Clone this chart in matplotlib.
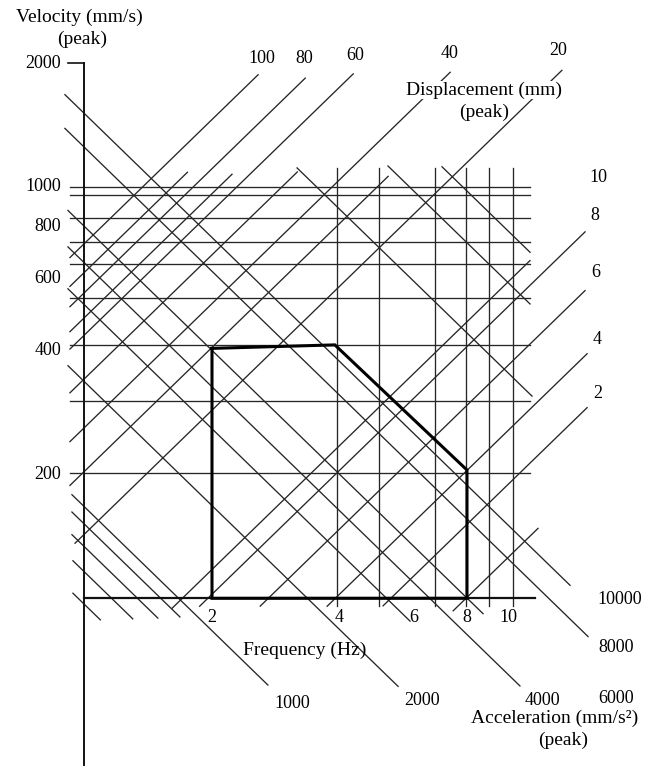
import matplotlib
matplotlib.use("Agg")
import matplotlib.pyplot as plt
import numpy as np

plt.rcParams['font.family'] = ['Liberation Serif', 'DejaVu Serif']

# horizontal lines of constant velocity (mm/s), as drawn
vel_lines = [1000, 958, 840, 736, 651, 538, 413, 302, 202]
vel_ticks = [2000, 1000, 800, 600, 400, 200]

# vertical lines of constant frequency (Hz)
freq_lines = [3.94, 4.95, 6.71, 7.94, 9.04, 10.28]
freq_ticks = [2, 4, 6, 8, 10]

# lines of constant displacement (mm) and the frequency span of each
disp_values = [116, 98.7, 88.1, 76.6, 69.5, 54.4, 41.4, 32.4, 22.8, 9.35, 8.14, 5.86, 4.07, 3.01, 2.0]
disp_f_lo = [0.924, 0.924, 0.924, 0.924, 0.924, 0.924, 0.924, 0.924, 0.95, 1.61, 1.87, 2.60, 3.74, 5.07, 7.42]
disp_f_hi = [2.57, 1.75, 3.32, 2.23, 4.31, 3.18, 7.30, 5.21, 13.4, 11.27, 15.2, 15.2, 15.37, 15.37, 11.77]
disp_top_labels = ['100', '80', '60', '40', '20']
disp_side_labels = ['10', '8', '6', '4', '2']

# lines of constant acceleration (mm/s^2) and the frequency span of each
acc_values = [9466, 7836, 5033, 4104, 3246, 2111, 1048, 951, 838, 728, 607, 22190, 36770, 49110]
acc_f_lo = [0.899, 0.899, 0.914, 0.914, 0.914, 0.914, 0.934, 0.934, 0.934, 0.939, 0.939, 3.176, 5.207, 6.985]
acc_f_hi = [14.01, 15.45, 8.73, 10.67, 5.87, 5.50, 2.71, 1.68, 1.49, 1.30, 1.09, 11.39, 11.27, 11.27]
acc_labels = ['1000', '2000', '4000', '6000', '8000', '10000']

# spectrum envelope
env_f = [2.0, 3.9, 8.0, 8.0, 2.0, 2.0]
env_v = [405, 413, 205, 100, 100, 405]

line_col = '#262626'
lw = 0.95

fig = plt.figure(figsize=(6.46, 7.67), dpi=100)
ax = fig.add_axes([0, 0, 1, 1])
ax.set_xscale('log')
ax.set_yscale('log')
ax.set_xlim(0.6317, 21.17)
ax.set_ylim(38.9, 2846)
ax.axis('off')

for v in vel_lines:
    ax.plot([0.925, 11.25], [v, v], color=line_col, lw=lw)

for f in freq_lines:
    ax.plot([f, f], [96, 1110], color=line_col, lw=lw)

for d, lo, hi in zip(disp_values, disp_f_lo, disp_f_hi):
    f = np.array([lo, hi])
    ax.plot(f, 2 * np.pi * f * d, color=line_col, lw=lw)

for a, lo, hi in zip(acc_values, acc_f_lo, acc_f_hi):
    f = np.array([lo, hi])
    ax.plot(f, a / (2 * np.pi * f), color=line_col, lw=lw)

# axes
ax.plot([1, 1], [39.3, 2000], color='#111111', lw=1.4)
ax.plot([0.914, 1], [2000, 2000], color='#111111', lw=1.2)
ax.plot([1, 11.6], [100, 100], color='#111111', lw=1.6)

ax.plot(env_f, env_v, color='black', lw=2.2, solid_joinstyle='miter')

fs_num = 13
fs_title = 14

for v in vel_ticks:
    ax.text(0.88, v, str(v), ha='right', va='center', fontsize=fs_num)
for f in freq_ticks:
    ax.text(f, 90, str(f), ha='center', va='center', fontsize=fs_num)

ax.text(0.97, 2587, 'Velocity (mm/s)', ha='center', va='center', fontsize=fs_title)
ax.text(0.986, 2288, '(peak)', ha='center', va='center', fontsize=fs_title)

ax.text(3.316, 74.7, 'Frequency (Hz)', ha='center', va='center', fontsize=fs_title)

top_pos = [(2.625, 2056), (3.299, 2056), (4.353, 2091), (7.296, 2114), (13.13, 2150)]
for lab, (f, v) in zip(disp_top_labels, top_pos):
    ax.text(f, v, lab, ha='center', va='center', fontsize=fs_num)

side_pos = [(16.31, 1051), (16.05, 854), (16.14, 621), (16.23, 424.5), (16.31, 315.5)]
for lab, (f, v) in zip(disp_side_labels, side_pos):
    ax.text(f, v, lab, ha='center', va='center', fontsize=fs_num)

box = dict(facecolor='white', edgecolor='none', pad=0.0)
ax.text(8.777, 1719, 'Displacement (mm)', ha='center', va='center', fontsize=fs_title, bbox=box, zorder=5)
ax.text(8.777, 1520, '(peak)', ha='center', va='center', fontsize=fs_title, bbox=box, zorder=5)

acc_pos = [(3.09, 55.5), (6.265, 56.5), (12.03, 56.5), (17.99, 57.1), (17.99, 76.0), (18.39, 99.6)]
for lab, (f, v) in zip(acc_labels, acc_pos):
    ax.text(f, v, lab, ha='center', va='center', fontsize=fs_num)

ax.text(12.91, 51.1, 'Acceleration (mm/s²)', ha='center', va='center', fontsize=fs_title)
ax.text(13.49, 45.2, '(peak)', ha='center', va='center', fontsize=fs_title)

fig.savefig('out.png', dpi=100)
